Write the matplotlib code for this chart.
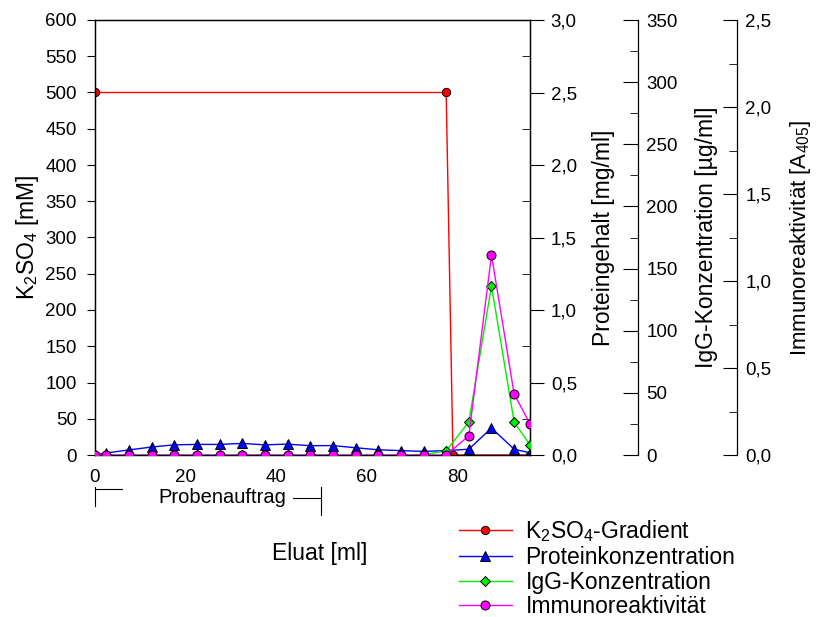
import numpy as np
import matplotlib
matplotlib.use('Agg')
import matplotlib.pyplot as plt
from matplotlib.ticker import MultipleLocator, FuncFormatter
import matplotlib.transforms as mtransforms

plt.rcParams['font.family'] = ['Liberation Sans', 'DejaVu Sans']
plt.rcParams['mathtext.fontset'] = 'custom'
plt.rcParams['mathtext.rm'] = 'Liberation Sans'
plt.rcParams['mathtext.it'] = 'Liberation Sans'
plt.rcParams['mathtext.default'] = 'regular'

# data
x_k2so4 = [0, 77.5, 79, 96]
k2so4 = [500, 500, 0, 0]                      # mM

x_frac = [0, 2.5, 7.5, 12.5, 17.5, 22.5, 27.5, 32.5, 37.5, 42.5, 47.5,
          52.5, 57.5, 62.5, 67.5, 72.5, 77.5, 82.5, 87.5, 92.5, 96]
protein = [0, 0.014, 0.035, 0.055, 0.07, 0.073, 0.073, 0.08, 0.07, 0.075, 0.064,
           0.065, 0.05, 0.036, 0.03, 0.025, 0.03, 0.04, 0.186, 0.04, 0.015]   # mg/ml
igg = [0, 0, 0, 0, 0, 0, 0, 0, 0, 0, 0,
       0, 0, 0, 0, 0, 3.5, 26.5, 136, 26.5, 8]                                # ug/ml
immuno = [0, 0, 0, 0, 0, 0, 0, 0, 0, 0, 0,
          0, 0, 0, 0, 0, 0, 0.11, 1.15, 0.35, 0.18]                            # A405

probenauftrag = [0, 49.8]

fs = 13.5
lfs = 16.5
comma = FuncFormatter(lambda v, p: ('%.1f' % v).replace('.', ','))

fig = plt.figure(figsize=(8.16, 6.17), dpi=100)
ax = fig.add_axes([95/816, 1-455/617, 435/816, 435/617])
ax2 = ax.twinx()
ax3 = ax.twinx()
ax4 = ax.twinx()

ax.set_xlim(0, 96)
ax.set_ylim(0, 600)
ax2.set_ylim(0, 3.0)
ax3.set_ylim(0, 350)
ax4.set_ylim(0, 2.5)

ms = dict(markeredgecolor='black', markeredgewidth=0.7)
l1, = ax.plot(x_k2so4, k2so4, color='red', lw=1, marker='o', markersize=6, markerfacecolor='red', **ms)
l2, = ax2.plot(x_frac, protein, color='blue', lw=1, marker='^', markersize=6.5, markerfacecolor='blue', **ms)
l3, = ax3.plot(x_frac, igg, color='#00ee00', lw=1, marker='D', markersize=5.5, markerfacecolor='#00ee00', **ms)
l4, = ax4.plot(x_frac, immuno, color='magenta', lw=1, marker='o', markersize=6.5, markerfacecolor='magenta', **ms)

# main axes
ax.xaxis.set_major_locator(MultipleLocator(20))
ax.yaxis.set_major_locator(MultipleLocator(50))
ax.tick_params(axis='x', direction='in', length=0, pad=10, labelsize=fs)
ax.tick_params(axis='y', direction='out', length=6, pad=7, labelsize=fs)
ax.set_ylabel('K$_2$SO$_4$ [mM]', fontsize=lfs, labelpad=3)
ax.set_xlabel('Eluat [ml]', fontsize=lfs)
ax.xaxis.set_label_coords((320 - 95) / 435, (455 - 542) / 435)

# protein axis
ax2.yaxis.set_major_locator(MultipleLocator(0.5))
ax2.yaxis.set_minor_locator(MultipleLocator(0.25))
ax2.yaxis.set_major_formatter(comma)
ax2.tick_params(which='major', direction='out', length=10, pad=5, labelsize=fs)
ax2.tick_params(which='minor', direction='in', length=6)
ax2.set_ylabel('Proteingehalt [mg/ml]', fontsize=lfs, labelpad=11)

# IgG axis
ax3.spines['right'].set_position(('axes', (638 - 95) / 435))
for s in ['top', 'bottom', 'left']:
    ax3.spines[s].set_visible(False)
ax3.yaxis.set_major_locator(MultipleLocator(50))
ax3.yaxis.set_minor_locator(MultipleLocator(25))
ax3.tick_params(which='major', direction='in', length=11, pad=6, labelsize=fs)
ax3.tick_params(which='minor', direction='in', length=6)
ax3.set_ylabel('IgG-Konzentration [µg/ml]', fontsize=lfs, labelpad=12)

# Immunoreaktivitaet axis
ax4.spines['right'].set_position(('axes', (737 - 95) / 435))
for s in ['top', 'bottom', 'left']:
    ax4.spines[s].set_visible(False)
ax4.yaxis.set_major_locator(MultipleLocator(0.5))
ax4.yaxis.set_minor_locator(MultipleLocator(0.25))
ax4.yaxis.set_major_formatter(comma)
ax4.tick_params(which='major', direction='in', length=10, pad=6, labelsize=fs)
ax4.tick_params(which='minor', direction='in', length=6)
ax4.set_ylabel('Immunoreaktivität [A$_{405}$]', fontsize=lfs - 0.5, labelpad=12)

for a in [ax, ax2, ax3, ax4]:
    for s in a.spines.values():
        s.set_linewidth(0.9)

# Probenauftrag bracket
tr = mtransforms.blended_transform_factory(ax.transData, ax.transAxes)
x0, x1 = probenauftrag
ax.plot([x0, x0], [-0.074, -0.118], color='black', lw=0.8, transform=tr, clip_on=False)
ax.plot([x0, x0 + 6], [-0.078, -0.078], color='black', lw=0.8, transform=tr, clip_on=False)
ax.plot([x1 - 6, x1], [-0.099, -0.099], color='black', lw=0.8, transform=tr, clip_on=False)
ax.plot([x1, x1], [-0.074, -0.138], color='black', lw=0.8, transform=tr, clip_on=False)
ax.text(28, -0.097, 'Probenauftrag', transform=tr, ha='center', va='center', fontsize=fs + 1)

handles = [l1, l2, l3, l4]
labels = ['K$_2$SO$_4$-Gradient', 'Proteinkonzentration', 'IgG-Konzentration', 'Immunoreaktivität']
fig.legend(handles, labels, loc='upper left', bbox_to_anchor=(459/816, 1 - 518/617),
           frameon=False, fontsize=lfs, handlelength=2.3, handletextpad=0.6,
           labelspacing=0.08, borderpad=0, borderaxespad=0)

fig.savefig('out.png', dpi=100)
